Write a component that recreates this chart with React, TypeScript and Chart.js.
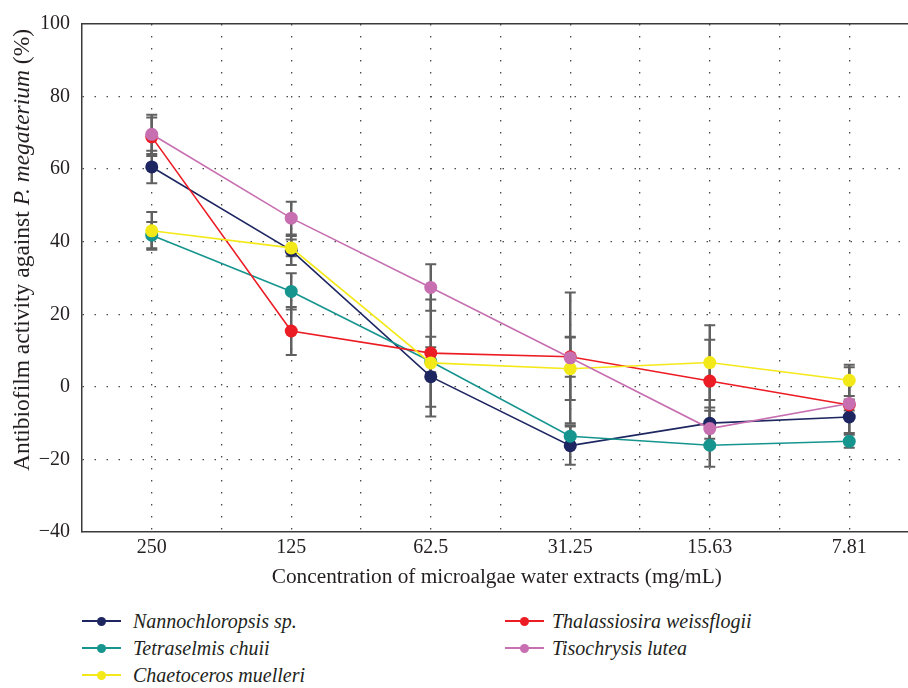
import React, { useEffect, useRef } from 'react';
import { Chart, registerables } from 'chart.js';

Chart.register(...registerables);

const categories = ['250', '125', '62.5', '31.25', '15.63', '7.81'];

const nannoValues = [60.6, 37.6, 2.8, -16.2, -10.0, -8.3];
const nannoErrors = [4.5, 4.0, 11.0, 5.3, 4.3, 4.4];
const tetraValues = [41.8, 26.3, 7.0, -13.6, -16.1, -15.0];
const tetraErrors = [3.6, 5.0, 3.0, 3.0, 5.9, 1.8];
const chaetoValues = [43.0, 38.3, 6.6, 5.0, 6.7, 1.8];
const chaetoErrors = [5.2, 2.3, 4.3, 8.6, 10.3, 4.3];
const thalaValues = [68.9, 15.4, 9.3, 8.3, 1.6, -5.0];
const thalaErrors = [5.3, 6.6, 14.8, 5.5, 11.4, 1.5];
const tisoValues = [69.6, 46.5, 27.4, 8.0, -11.5, -4.6];
const tisoErrors = [5.4, 4.5, 6.4, 18.0, 4.9, 10.0];

const seriesNames = [
  'Nannochloropsis sp.',
  'Tetraselmis chuii',
  'Chaetoceros muelleri',
  'Thalassiosira weissflogii',
  'Tisochrysis lutea',
];
const seriesColors = ['#1d2660', '#16958f', '#f4e918', '#ec1c24', '#c76fb0'];

const yMin = -40;
const yMax = 100;
const yStep = 20;

const FONT = '"Liberation Serif", "Times New Roman", serif';
const TEXT = '#231f20';
const FS = 20;
const TITLE_FS = 21.3;
const Y_TITLE_FS = 23.5;
const CATEGORY_PX = 139.5;

const errorBarPlugin = {
  id: 'errorBars',
  beforeDatasetsDraw(chart: any) {
    const { ctx, scales } = chart;
    const xs = scales.x;
    const ys = scales.y;
    ctx.save();
    ctx.strokeStyle = '#606060';
    chart.data.datasets.forEach((ds: any) => {
      ds.data.forEach((p: any, i: number) => {
        const e = ds.errors[i];
        const px = xs.getPixelForValue(p.x);
        const top = ys.getPixelForValue(p.y + e);
        const bot = ys.getPixelForValue(p.y - e);
        ctx.lineWidth = 2.5;
        ctx.beginPath();
        ctx.moveTo(px, top);
        ctx.lineTo(px, bot);
        ctx.stroke();
        ctx.lineWidth = 2;
        ctx.beginPath();
        ctx.moveTo(px - 5.5, top);
        ctx.lineTo(px + 5.5, top);
        ctx.moveTo(px - 5.5, bot);
        ctx.lineTo(px + 5.5, bot);
        ctx.stroke();
      });
    });
    ctx.restore();
  },
};

export default function App() {
  const canvasRef = useRef<HTMLCanvasElement | null>(null);

  useEffect(() => {
    if (!canvasRef.current) return;
    const values = [nannoValues, tetraValues, chaetoValues, thalaValues, tisoValues];
    const errors = [nannoErrors, tetraErrors, chaetoErrors, thalaErrors, tisoErrors];
    const drawOrder = [4, 2, 3, 1, 0];
    const datasets = drawOrder.map((s) => ({
      label: seriesNames[s],
      data: values[s].map((v, i) => ({ x: i, y: v })),
      errors: errors[s],
      borderColor: seriesColors[s],
      backgroundColor: seriesColors[s],
      pointBackgroundColor: seriesColors[s],
      pointBorderWidth: 0,
      pointRadius: 6.5,
      borderWidth: 1.6,
      tension: 0,
      fill: false,
    }));

    const xGridTicks: number[] = [];
    for (let v = -0.5; v <= categories.length - 1 + 0.001; v += 0.5) xGridTicks.push(v);

    const chart: any = new Chart(canvasRef.current, {
      type: 'line',
      data: { datasets: datasets as any },
      plugins: [errorBarPlugin],
      options: {
        animation: false,
        responsive: false,
        maintainAspectRatio: false,
        layout: { padding: { left: 0, right: 0, top: 0, bottom: 10 } },
        plugins: { legend: { display: false }, tooltip: { enabled: false } },
        scales: {
          x: {
            type: 'linear',
            position: 'bottom',
            min: -0.5,
            max: 5.5,
            afterBuildTicks: (axis: any) => {
              axis.ticks = xGridTicks.map((v) => ({ value: v }));
            },
            afterFit: (scale: any) => {
              scale.height = 58;
              scale.paddingLeft = 0;
              scale.paddingRight = 0;
            },
            ticks: {
              autoSkip: false,
              maxRotation: 0,
              padding: 4,
              color: TEXT,
              font: { family: FONT, size: FS },
              callback: (value: any) => {
                const v = Number(value);
                return Number.isInteger(v) && v >= 0 ? categories[v] : '';
              },
            },
            grid: {
              drawTicks: false,
              lineWidth: 1.3,
              color: (c: any) => (c.tick && c.tick.value < 0 ? 'rgba(0,0,0,0)' : '#4a4a4a'),
            },
            border: { display: true, color: '#3a3a3a', width: 1.5, dash: [1.5, 10.5] },
            title: {
              display: true,
              text: 'Concentration of microalgae water extracts (mg/mL)',
              color: TEXT,
              font: { family: FONT, size: TITLE_FS },
              padding: { top: 0, bottom: 0 },
            },
          },
          x2: {
            type: 'linear',
            position: 'top',
            min: 0,
            max: 1,
            afterFit: (scale: any) => {
              scale.height = 17;
              scale.paddingLeft = 0;
              scale.paddingRight = 0;
            },
            ticks: { display: false },
            grid: { display: false, drawTicks: false },
            border: { display: true, color: '#3a3a3a', width: 1.5 },
          },
          y: {
            type: 'linear',
            min: yMin,
            max: yMax,
            afterFit: (scale: any) => {
              scale.width = 82;
            },
            ticks: {
              stepSize: yStep,
              padding: 12,
              color: TEXT,
              font: { family: FONT, size: FS },
              callback: (value: any) => {
                const v = Number(value);
                return v < 0 ? '\u2212' + Math.abs(v) : String(v);
              },
            },
            grid: {
              drawTicks: false,
              lineWidth: 1.3,
              color: (c: any) =>
                c.tick && (c.tick.value === yMin || c.tick.value === yMax) ? 'rgba(0,0,0,0)' : '#4a4a4a',
            },
            border: { display: true, color: '#3a3a3a', width: 1.5, dash: [1.5, 10.5] },
          },
        },
      },
    });
    // Align the category spacing with the reference once the plot area is known.
    const area = chart.chartArea;
    chart.options.scales.x.max = -0.5 + (area.right - area.left) / CATEGORY_PX;
    chart.update('none');
    return () => chart.destroy();
  }, []);

  const legendCol = (i: number) => (i < 3 ? 0 : 1);
  const legendRow = (i: number) => (i < 3 ? i : i - 3);
  const colX = [82, 505];
  const textX = [133, 552];
  const rowY = [621, 648, 675];

  return (
    <div style={{ position: 'absolute', left: 0, top: 0, width: 908, height: 688, overflow: 'hidden', background: '#fff' }}>
      <canvas ref={canvasRef} width={918} height={600} style={{ position: 'absolute', left: 0, top: 0 }} />
      <div
        style={{
          position: 'absolute',
          left: 8,
          top: 471,
          height: 27,
          transform: 'rotate(-90deg)',
          transformOrigin: '0 0',
          whiteSpace: 'nowrap',
          fontFamily: FONT,
          fontSize: Y_TITLE_FS,
          color: TEXT,
          lineHeight: '27px',
        }}
      >
        Antibiofilm activity against <i>P. megaterium</i> (%)
      </div>
      {seriesNames.map((name, i) => {
        const x = colX[legendCol(i)];
        const y = rowY[legendRow(i)];
        return (
          <div key={name}>
            <div style={{ position: 'absolute', left: x, top: y - 1, width: 39, height: 2, background: seriesColors[i] }} />
            <div
              style={{
                position: 'absolute',
                left: x + 15,
                top: y - 4.5,
                width: 9,
                height: 9,
                borderRadius: '50%',
                background: seriesColors[i],
              }}
            />
            <div
              style={{
                position: 'absolute',
                left: textX[legendCol(i)],
                top: y - 12,
                fontFamily: FONT,
                fontStyle: 'italic',
                fontSize: FS,
                color: TEXT,
                lineHeight: '24px',
                whiteSpace: 'nowrap',
              }}
            >
              {name}
            </div>
          </div>
        );
      })}
    </div>
  );
}
